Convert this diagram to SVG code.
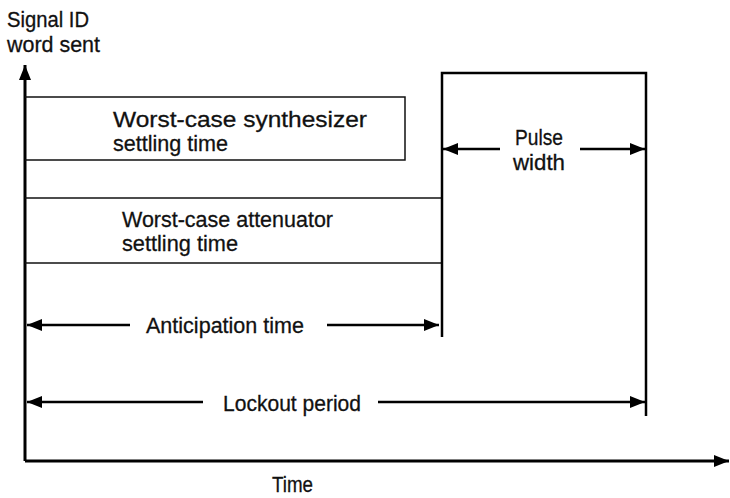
<svg xmlns="http://www.w3.org/2000/svg" width="730" height="498" viewBox="0 0 730 498">
<defs>
<style>
text{font-family:"Liberation Sans",Arial,sans-serif;font-size:22.5px;fill:#111;stroke:#111;stroke-width:0.3}
.ax{stroke:#000;stroke-width:3;fill:none}
.ln{stroke:#111;stroke-width:1.5;fill:none}
.pl{stroke:#000;stroke-width:2.5;fill:none}
.ar{stroke:#000;stroke-width:2.5;fill:none}
</style>
<marker id="ah" viewBox="0 0 15 12" refX="15" refY="6" markerWidth="15" markerHeight="12" markerUnits="userSpaceOnUse" orient="auto">
<path d="M0,0 L15,6 L0,12 Z" fill="#000"/>
</marker>
</defs>
<g id="axes">
<line class="ax" x1="25" y1="461" x2="25" y2="65" marker-end="url(#ah)"/>
<line class="ax" x1="25" y1="461" x2="729" y2="461" marker-end="url(#ah)"/>
<text x="7" y="27" textLength="82" lengthAdjust="spacingAndGlyphs">Signal ID</text>
<text x="7" y="52" textLength="93" lengthAdjust="spacingAndGlyphs">word sent</text>
<text x="272" y="492" font-size="21" textLength="41" lengthAdjust="spacingAndGlyphs">Time</text>
</g>
<g id="synth">
<polyline class="ln" points="25,97 405,97 405,160 25,160"/>
<text x="113" y="127" textLength="254" lengthAdjust="spacingAndGlyphs">Worst-case synthesizer</text>
<text x="113" y="151" textLength="115" lengthAdjust="spacingAndGlyphs">settling time</text>
</g>
<g id="atten">
<polyline class="ln" points="25,198 442,198"/>
<polyline class="ln" points="25,263 442,263"/>
<text x="122" y="227" textLength="211" lengthAdjust="spacingAndGlyphs">Worst-case attenuator</text>
<text x="122" y="251" textLength="116" lengthAdjust="spacingAndGlyphs">settling time</text>
</g>
<g id="pulse">
<polyline class="pl" points="442,337 442,73 646,73 646,416"/>
<text x="515" y="145" textLength="48" lengthAdjust="spacingAndGlyphs">Pulse</text>
<text x="513" y="170" textLength="52" lengthAdjust="spacingAndGlyphs">width</text>
</g>
<g id="connectors">
<line class="ar" x1="500" y1="149" x2="443" y2="149" marker-end="url(#ah)"/>
<line class="ar" x1="580" y1="149" x2="645" y2="149" marker-end="url(#ah)"/>
<line class="ar" x1="130" y1="325" x2="27" y2="325" marker-end="url(#ah)"/>
<line class="ar" x1="327" y1="325" x2="439" y2="325" marker-end="url(#ah)"/>
<line class="ar" x1="203" y1="402" x2="27" y2="402" marker-end="url(#ah)"/>
<line class="ar" x1="378" y1="402" x2="645" y2="402" marker-end="url(#ah)"/>
</g>
<g id="labels">
<text x="146" y="333" textLength="158" lengthAdjust="spacingAndGlyphs">Anticipation time</text>
<text x="223" y="411" textLength="138" lengthAdjust="spacingAndGlyphs">Lockout period</text>
</g>
</svg>
